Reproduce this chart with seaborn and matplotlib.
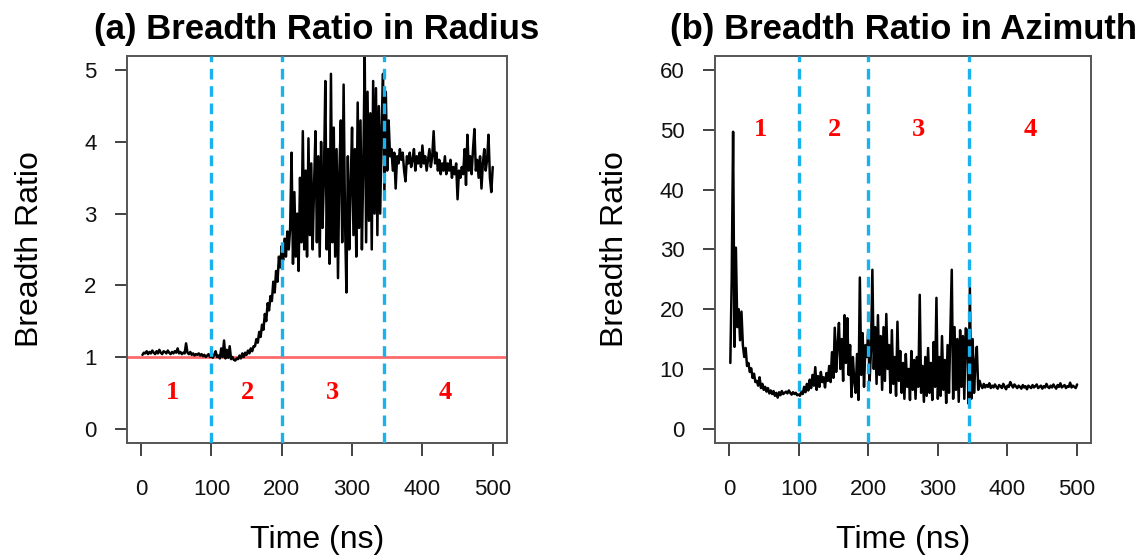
import numpy as np
import pandas as pd
import seaborn as sns
import matplotlib
matplotlib.use("Agg")
import matplotlib.pyplot as plt
from matplotlib import font_manager

# ---------------- data ----------------
time_ns = list(range(2, 501, 2))

radius_ratio = [
    1.03, 1.06, 1.05, 1.08, 1.04, 1.07, 1.05, 1.09, 1.06, 1.04,
    1.08, 1.05, 1.10, 1.06, 1.04, 1.08, 1.07, 1.05, 1.09, 1.06,
    1.04, 1.07, 1.05, 1.08, 1.06, 1.12, 1.05, 1.07, 1.04, 1.06,
    1.05, 1.19, 1.06, 1.04, 1.07, 1.03, 1.05, 1.02, 1.04, 1.03,
    1.05, 1.02, 1.04, 1.01, 1.03, 1.00, 1.02, 1.04, 1.00, 1.01,
    0.99, 1.03, 1.08, 1.00, 1.02, 0.98, 1.12, 1.00, 1.23, 0.98,
    1.10, 0.99, 1.15, 0.97, 1.00, 0.96, 0.95, 0.98, 0.97, 1.02,
    0.98, 1.05, 1.00, 1.06, 1.03, 1.09, 1.05, 1.12, 1.08, 1.15,
    1.15, 1.25, 1.20, 1.35, 1.28, 1.45, 1.38, 1.60, 1.50, 1.75,
    1.65, 1.85, 1.78, 2.05, 1.90, 2.20, 2.05, 2.40, 2.25, 2.55,
    2.35, 2.65, 2.40, 2.75, 2.50, 2.80, 3.85, 2.30, 3.30, 2.40,
    3.00, 2.20, 3.50, 2.60, 4.15, 2.50, 3.60, 2.40, 4.05, 2.70,
    3.70, 2.50, 3.40, 4.15, 2.60, 3.80, 2.40, 4.00, 2.80, 3.50,
    4.85, 2.50, 3.90, 2.30, 4.95, 2.60, 4.20, 2.40, 3.90, 2.10,
    3.60, 4.30, 2.60, 4.80, 2.90, 1.90, 3.80, 2.50, 3.40, 4.20,
    2.70, 3.90, 2.40, 4.55, 2.80, 4.30, 2.50, 3.70, 5.20, 2.60,
    4.70, 2.90, 4.40, 2.50, 4.85, 3.00, 4.75, 2.70, 4.50, 3.00,
    4.20, 4.95, 3.30, 4.70, 3.60, 4.30, 3.80, 3.90, 3.60, 3.85,
    3.35, 3.80, 3.70, 3.90, 3.75, 3.85, 3.60, 3.45, 3.80, 3.70,
    3.85, 3.65, 3.75, 3.90, 3.60, 3.80, 3.70, 3.85, 3.65, 3.95,
    3.70, 3.80, 3.60, 3.75, 3.90, 3.65, 3.80, 4.15, 3.70, 3.85,
    3.60, 3.75, 3.55, 3.70, 3.60, 3.80, 3.55, 3.70, 3.60, 3.75,
    3.50, 3.65, 3.55, 3.70, 3.20, 3.60, 3.50, 3.65, 3.55, 3.90,
    3.40, 4.10, 3.60, 3.80, 3.55, 3.90, 4.18, 3.60, 3.75, 3.50,
    3.80, 3.35, 3.70, 3.90, 3.60, 3.75, 4.10, 3.50, 3.30, 3.65,
]

azimuth_ratio = [
    11.0, 25.0, 49.7, 13.7, 30.3, 17.0, 20.0, 14.8, 19.6, 14.0,
    12.0, 13.5, 10.5, 11.0, 9.5, 10.1, 8.5, 9.2, 7.8, 8.0,
    7.2, 8.6, 6.8, 7.5, 6.5, 7.0, 6.2, 6.8, 5.9, 6.4,
    5.8, 6.3, 5.5, 6.0, 5.2, 6.1, 5.6, 6.3, 5.8, 6.0,
    6.2, 5.9, 6.4, 6.0, 5.7, 6.1, 5.8, 6.0, 5.6, 5.7,
    5.5, 6.2, 5.8, 7.0, 6.1, 7.5, 6.4, 8.2, 6.8, 9.0,
    7.2, 10.3, 6.5, 8.8, 7.0, 9.5, 7.8, 8.6, 6.9, 9.3,
    8.0, 10.5, 7.8, 12.8, 8.5, 16.9, 9.5, 14.0, 17.7, 10.0,
    15.0, 8.0, 19.0, 11.0, 18.5, 9.0, 14.0, 5.3, 12.0, 8.0,
    6.0, 12.5, 4.8, 25.3, 9.0, 16.0, 7.0, 14.0, 12.0, 16.5,
    8.0, 13.0, 26.6, 10.0, 17.0, 7.5, 19.0, 9.0, 15.5, 6.5,
    17.0, 8.0, 19.2, 10.0, 14.0, 6.0, 16.5, 7.5, 12.0, 5.5,
    17.9, 8.0, 13.0, 6.0, 11.0, 5.0, 12.5, 7.0, 10.0, 4.8,
    13.0, 6.5, 11.5, 5.0, 12.0, 7.0, 22.4, 6.0, 10.5, 4.5,
    12.0, 5.5, 13.5, 6.0, 11.0, 4.8, 14.5, 7.0, 21.9, 5.0,
    12.0, 5.5, 15.5, 6.5, 11.5, 4.3, 14.0, 6.0, 16.0, 26.6,
    5.0, 17.0, 6.5, 15.0, 4.5, 16.5, 7.0, 15.5, 5.0, 16.8,
    16.5, 4.2, 23.6, 5.0, 15.0, 6.0, 11.0, 13.7, 6.5, 8.0,
    7.2, 6.8, 7.5, 6.9, 7.3, 7.0, 7.6, 6.8, 7.2, 6.9,
    7.4, 7.0, 6.7, 7.3, 7.1, 6.8, 7.5, 7.0, 6.6, 7.2,
    7.0, 7.8, 7.3, 6.9, 7.4, 7.1, 6.8, 7.2, 7.0, 6.7,
    7.3, 6.9, 7.1, 6.6, 7.2, 7.0, 6.8, 7.3, 6.9, 7.1,
    7.4, 6.8, 7.0, 7.2, 6.7, 7.1, 6.9, 7.5, 7.0, 6.8,
    7.2, 6.9, 7.4, 7.0, 6.7, 7.3, 7.0, 7.6, 6.9, 7.1,
    7.3, 6.8, 7.1, 7.0, 7.7, 6.9, 7.2, 7.0, 6.8, 7.4,
]

phase_boundaries = [100, 200, 345]
phase_labels = ["1", "2", "3", "4"]
phase_label_x = [45, 152, 272, 433]
phase_label_y_radius = 0.5
phase_label_y_azimuth = 50

x_ticks = [0, 100, 200, 300, 400, 500]
radius_yticks = [0, 1, 2, 3, 4, 5]
azimuth_yticks = [0, 10, 20, 30, 40, 50, 60]
reference_ratio = 1

titles = ["(a) Breadth Ratio in Radius", "(b) Breadth Ratio in Azimuth"]
x_label = "Time (ns)"
y_label = "Breadth Ratio"

# ---------------- style ----------------
sns.set_style("white")
avail = {f.name for f in font_manager.fontManager.ttflist}
sans = "Liberation Sans" if "Liberation Sans" in avail else "DejaVu Sans"
narrow = "Liberation Sans Narrow" if "Liberation Sans Narrow" in avail else sans
serif = "Liberation Serif" if "Liberation Serif" in avail else "DejaVu Serif"
plt.rcParams["font.family"] = [sans, "DejaVu Sans"]
plt.rcParams["text.color"] = "black"
plt.rcParams["axes.labelcolor"] = "black"

fig = plt.figure(figsize=(11.44, 5.59), dpi=100)
ax_a = fig.add_axes([0.111, 0.2075, 0.332, 0.6925])
ax_b = fig.add_axes([0.625, 0.2075, 0.3287, 0.6925])

df_a = pd.DataFrame({"time": time_ns, "ratio": radius_ratio})
df_b = pd.DataFrame({"time": time_ns, "ratio": azimuth_ratio})

frame_col = "#555555"
blue = "#1AB2EE"
data_lw = 1.8


def style_axes(ax, yticks, ylim):
    ax.set_xlim(-20, 520)
    ax.set_ylim(*ylim)
    ax.set_xticks(x_ticks)
    ax.set_yticks(yticks)
    ax.set_xticklabels([str(v) for v in x_ticks], fontsize=16, family=narrow)
    ax.set_yticklabels([str(v) for v in yticks], fontsize=16, family=narrow)
    ax.tick_params(axis="both", direction="out", length=9, width=1.2,
                   color="#222222", labelcolor="#111111")
    ax.tick_params(axis="x", pad=17, bottom=True)
    ax.tick_params(axis="y", pad=13, left=True)
    for sp in ax.spines.values():
        sp.set_visible(True)
        sp.set_color(frame_col)
        sp.set_linewidth(1.4)
    ax.set_xlabel(x_label, fontsize=23, color="black")
    ax.set_ylabel(y_label, fontsize=23, color="black")
    ax.xaxis.label.set_va("center")
    ax.yaxis.label.set_va("center")


# panel (a)
sns.lineplot(data=df_a, x="time", y="ratio", ax=ax_a, color="black",
             linewidth=data_lw, estimator=None, sort=False)
ax_a.axhline(reference_ratio, color="#FF6B6B", linewidth=2.0, zorder=1)
for b in phase_boundaries:
    ax_a.axvline(b, color=blue, linewidth=2.4, linestyle=(0, (3.2, 2.0)), zorder=3)
for lab, lx in zip(phase_labels, phase_label_x):
    ax_a.text(lx, phase_label_y_radius, lab, color="red", fontsize=19,
              family=serif, fontweight="bold", ha="center", va="center")
style_axes(ax_a, radius_yticks, (-0.2, 5.2))
ax_a.set_title(titles[0], fontsize=25, fontweight="bold", pad=12, color="black")
ax_a.xaxis.set_label_coords(0.5, -0.25)
ax_a.yaxis.set_label_coords(-0.255, 0.5)

# panel (b)
sns.lineplot(data=df_b, x="time", y="ratio", ax=ax_b, color="black",
             linewidth=data_lw, estimator=None, sort=False)
for b in phase_boundaries:
    ax_b.axvline(b, color=blue, linewidth=2.4, linestyle=(0, (3.2, 2.0)), zorder=3)
for lab, lx in zip(phase_labels, phase_label_x):
    ax_b.text(lx, phase_label_y_azimuth, lab, color="red", fontsize=19,
              family=serif, fontweight="bold", ha="center", va="center")
style_axes(ax_b, azimuth_yticks, (-2.4, 62.4))
ax_b.set_title(titles[1], fontsize=25, fontweight="bold", pad=12, color="black")
ax_b.xaxis.set_label_coords(0.5, -0.25)
ax_b.yaxis.set_label_coords(-0.266, 0.5)

fig.savefig("out.png", dpi=100)
